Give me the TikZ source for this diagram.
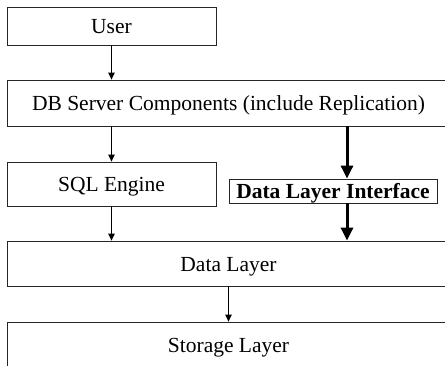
\documentclass[tikz,border=0pt]{standalone}
\usepackage{fontspec}
\setmainfont{Liberation Serif}
\usetikzlibrary{arrows.meta}
\begin{document}
\begin{tikzpicture}[x=1pt,y=-1pt,
  box/.style={draw=black!85,line width=0.8pt,rectangle,inner sep=0pt,
    text height=16pt,text depth=0pt,
    font=\fontsize{21.5}{24}\selectfont},
  thin/.style={draw,line width=0.9pt,-{Triangle[length=7pt,width=6.5pt]}},
  thick/.style={draw,line width=3pt,-{Triangle[length=13pt,width=12pt]}}]
\useasboundingbox (0,0) rectangle (445,366);
\clip (0,0) rectangle (445,366);
% layers of the server stack
\node[box,minimum width=209pt,minimum height=38pt] (user) at (111.5,26) {User};
\node[box,minimum width=443pt,minimum height=46pt] (db) at (228.5,103) {DB Server Components (include Replication)};
\node[box,minimum width=209pt,minimum height=44pt] (sql) at (111.5,184) {SQL Engine};
\node[box,minimum width=208pt,minimum height=24pt,text height=14.5pt] (dli) at (333,191) {\bfseries Data Layer Interface};
\node[box,minimum width=443pt,minimum height=45pt] (data) at (228.5,263.5) {Data Layer};
\node[box,minimum width=443pt,minimum height=46pt] (store) at (228.5,345) {Storage Layer};
% column of the replication path
\coordinate (rx) at (347,0);
% connectors
\draw[thin] (user.south) -- (user.south |- db.north);
\draw[thin] (user.south |- db.south) -- (user.south |- sql.north);
\draw[thin] (sql.south) -- (sql.south |- data.north);
\draw[thin] (data.south) -- (store.north);
\draw[thick] (db.south -| rx) -- (dli.north -| rx);
\draw[thick] (dli.south -| rx) -- (data.north -| rx);
\end{tikzpicture}
\end{document}
